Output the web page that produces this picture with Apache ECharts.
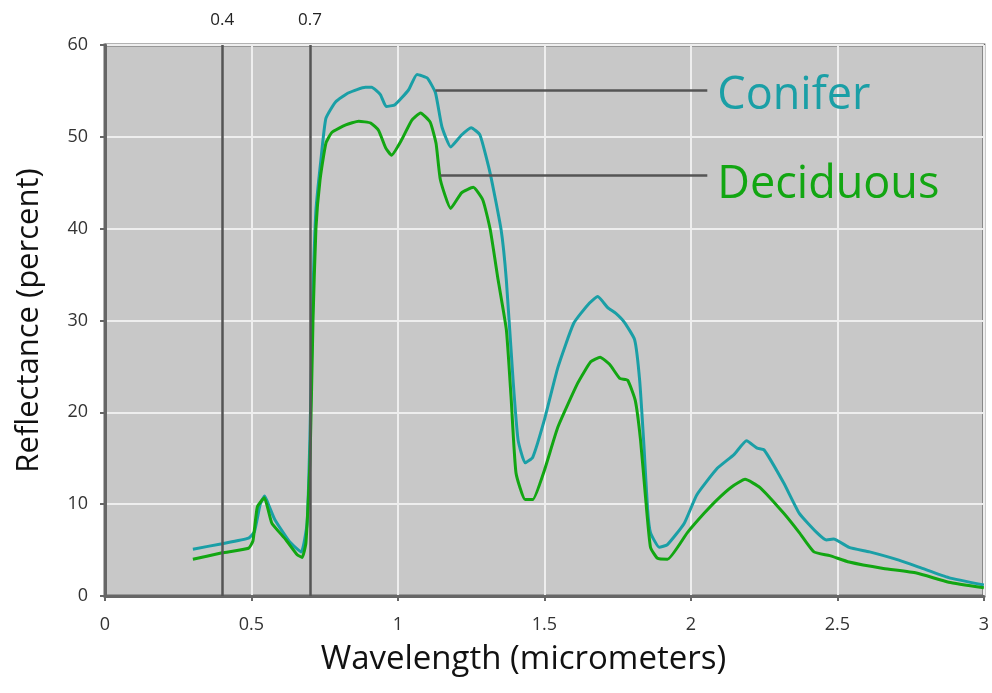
<!DOCTYPE html>
<html>
<head>
<meta charset="utf-8">
<script src="https://cdn.jsdelivr.net/npm/echarts@6/dist/echarts.min.js"></script>
<style>
  html, body { margin: 0; padding: 0; background: #fff; }
  #main { width: 992px; height: 693px; }
</style>
</head>
<body>
<div id="main"></div>
<script>
// wavelength (micrometers) / reflectance (percent)
const coniferX = [0.30, 0.40, 0.49, 0.51, 0.53, 0.545, 0.56, 0.58, 0.63, 0.67, 0.69, 0.70, 0.71, 0.72, 0.737, 0.754, 0.787, 0.832, 0.889, 0.91, 0.94, 0.96, 0.99, 1.036, 1.065, 1.10, 1.128, 1.15, 1.18, 1.217, 1.25, 1.28, 1.315, 1.352, 1.37, 1.393, 1.41, 1.434, 1.46, 1.50, 1.546, 1.60, 1.648, 1.682, 1.716, 1.743, 1.773, 1.808, 1.825, 1.84, 1.852, 1.862, 1.892, 1.92, 1.977, 2.02, 2.09, 2.147, 2.19, 2.226, 2.25, 2.317, 2.37, 2.43, 2.463, 2.487, 2.54, 2.61, 2.71, 2.79, 2.88, 3.0];
const coniferY = [5.1, 5.7, 6.3, 7.0, 10.0, 10.9, 9.8, 8.3, 5.9, 4.8, 8.0, 18, 33, 42, 47.5, 52, 53.8, 54.8, 55.4, 55.4, 54.6, 53.3, 53.5, 55.1, 56.8, 56.4, 54.8, 51.1, 48.9, 50.2, 51.0, 50.2, 46.0, 39.9, 34.4, 23.5, 17, 14.5, 15.1, 19.2, 24.9, 29.7, 31.7, 32.6, 31.4, 30.8, 29.8, 27.9, 23.5, 16.2, 9.5, 6.9, 5.3, 5.6, 7.9, 11, 13.9, 15.4, 16.9, 16.1, 15.9, 12.3, 9.0, 6.9, 6.1, 6.2, 5.3, 4.8, 3.9, 3.0, 2.0, 1.2];

const deciduousX = [0.30, 0.40, 0.49, 0.505, 0.52, 0.544, 0.56, 0.57, 0.618, 0.656, 0.673, 0.686, 0.70, 0.71, 0.72, 0.734, 0.754, 0.775, 0.822, 0.866, 0.907, 0.934, 0.958, 0.978, 1.013, 1.047, 1.077, 1.11, 1.13, 1.145, 1.18, 1.217, 1.257, 1.29, 1.315, 1.342, 1.37, 1.386, 1.403, 1.434, 1.46, 1.50, 1.546, 1.614, 1.658, 1.69, 1.723, 1.757, 1.784, 1.81, 1.828, 1.845, 1.862, 1.886, 1.92, 1.988, 2.045, 2.09, 2.14, 2.185, 2.236, 2.317, 2.37, 2.42, 2.474, 2.54, 2.657, 2.77, 2.88, 3.0];
const deciduousY = [4.0, 4.7, 5.2, 6.0, 9.7, 10.7, 9.0, 7.9, 6.1, 4.5, 4.2, 5.8, 15, 30, 40, 45.3, 49.3, 50.5, 51.3, 51.7, 51.5, 50.7, 48.8, 48.0, 49.7, 51.8, 52.6, 51.6, 49.3, 45.3, 42.2, 43.9, 44.5, 43.1, 39.9, 34.4, 29, 21.7, 13.4, 10.5, 10.5, 13.7, 18.4, 23.2, 25.5, 26.0, 25.2, 23.7, 23.5, 21.3, 17, 10.8, 5.3, 4.1, 4.0, 6.9, 9.0, 10.5, 11.9, 12.7, 11.8, 9.0, 6.9, 4.8, 4.4, 3.7, 3.0, 2.5, 1.5, 0.9];

// marker wavelengths drawn as vertical lines
const markers = [0.4, 0.7];
// label leader lines: [series name, start x, y, end x]
const leaders = [
  ['Conifer', 1.128, 55.1, 2.056],
  ['Deciduous', 1.145, 45.8, 2.056]
];

const font = '"Open Sans", Lato, sans-serif';
const tealColor = '#1a9fa6';
const greenColor = '#12a612';

function zip(xs, ys) {
  return xs.map((x, i) => [x, ys[i]]);
}

function leaderLine(name, color, dy) {
  const l = leaders.find(d => d[0] === name);
  return {
    silent: true,
    symbol: ['none', 'none'],
    lineStyle: {color: '#555', width: 2.5, type: 'solid'},
    label: {
      show: true, position: 'end', formatter: name, color: color,
      fontFamily: font, fontSize: 45, distance: 10, offset: [0, dy]
    },
    data: [[{coord: [l[1], l[2]]}, {coord: [l[3], l[2]]}]]
  };
}

let myChart = echarts.init(document.getElementById('main'));
let option = {
  animation: false,
  grid: {
    left: 105, right: 5, top: 45, bottom: 97,
    show: true, backgroundColor: '#c8c8c8', borderColor: '#666', borderWidth: 3
  },
  xAxis: {
    type: 'value', min: 0, max: 3, interval: 0.5,
    name: 'Wavelength (micrometers)', nameLocation: 'middle', nameGap: 47,
    nameTextStyle: {fontFamily: font, fontSize: 33, color: '#111', padding: [0, 42, 0, 0]},
    axisLine: {show: true, lineStyle: {color: '#666', width: 3}},
    axisTick: {show: true, length: 5, lineStyle: {color: '#666', width: 2}},
    axisLabel: {fontFamily: font, fontSize: 18, color: '#333', margin: 20},
    splitLine: {show: true, lineStyle: {color: '#eeeeee', width: 2}}
  },
  yAxis: {
    type: 'value', min: 0, max: 60, interval: 10,
    name: 'Reflectance (percent)', nameLocation: 'middle', nameGap: 60,
    nameTextStyle: {fontFamily: font, fontSize: 31, color: '#111'},
    axisLine: {show: true, lineStyle: {color: '#666', width: 3}},
    axisTick: {show: true, length: 5, lineStyle: {color: '#666', width: 2}},
    axisLabel: {fontFamily: font, fontSize: 18, color: '#333', margin: 17},
    splitLine: {show: true, lineStyle: {color: '#eeeeee', width: 2}}
  },
  series: [
    {
      name: 'markers', type: 'line', data: [],
      markLine: {
        silent: true,
        symbol: ['none', 'none'],
        lineStyle: {color: '#555', width: 2.5, type: 'solid'},
        label: {
          show: true, position: 'end', formatter: '{c}',
          fontFamily: font, fontSize: 17, color: '#222', distance: 16
        },
        data: markers.map(v => ({xAxis: v}))
      }
    },
    {
      name: 'Conifer', type: 'line', showSymbol: false, smooth: 0.15,
      data: zip(coniferX, coniferY),
      lineStyle: {color: tealColor, width: 3},
      itemStyle: {color: tealColor},
      markLine: leaderLine('Conifer', tealColor, 6)
    },
    {
      name: 'Deciduous', type: 'line', showSymbol: false, smooth: 0.15,
      data: zip(deciduousX, deciduousY),
      lineStyle: {color: greenColor, width: 3},
      itemStyle: {color: greenColor},
      markLine: leaderLine('Deciduous', greenColor, 10)
    }
  ]
};
myChart.setOption(option);
</script>
</body>
</html>
